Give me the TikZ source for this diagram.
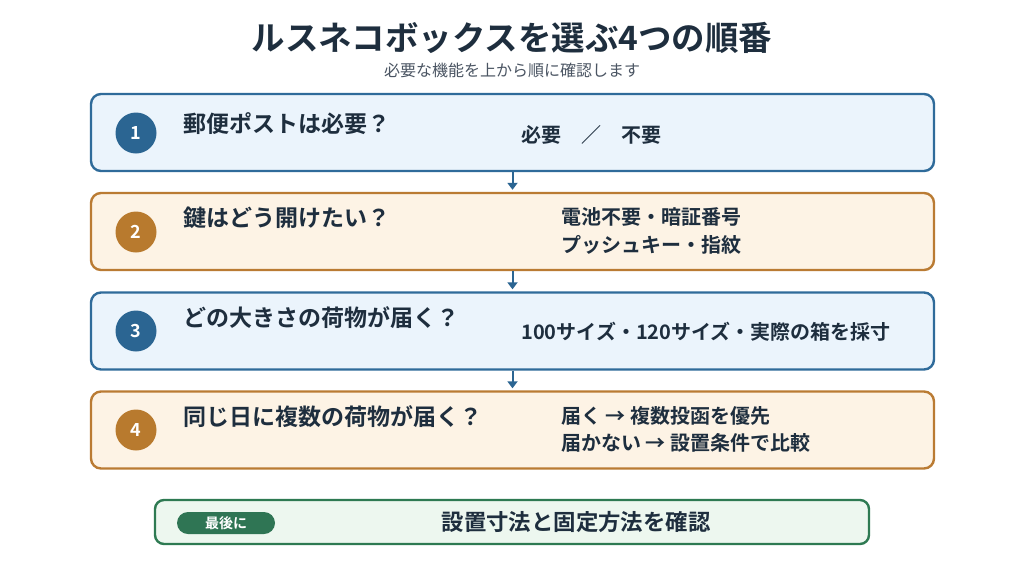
\documentclass[tikz,border=0pt]{standalone}
\usepackage{fontspec}
\setmainfont{Noto Sans CJK JP}[BoldFont={Noto Sans CJK JP Bold}]
\usetikzlibrary{arrows.meta}
\definecolor{ink}{HTML}{1E2E3E}
\definecolor{subink}{HTML}{4B5563}
\definecolor{bluebd}{HTML}{2F6B9A}
\definecolor{bluefill}{HTML}{EBF4FC}
\definecolor{bluedot}{HTML}{2B6592}
\definecolor{orbd}{HTML}{BA7B33}
\definecolor{orfill}{HTML}{FDF3E5}
\definecolor{ordot}{HTML}{B87A2E}
\definecolor{grbd}{HTML}{2E7A52}
\definecolor{grfill}{HTML}{EDF7EF}
\definecolor{grpill}{HTML}{2F7554}
\newcommand{\fs}[1]{\fontsize{#1}{#1}\selectfont}
\tikzset{
  stepbox/.style={draw=#1bd, fill=#1fill, line width=2.4pt, rounded corners=10pt,
    minimum width=843pt, minimum height=77pt, inner sep=0pt},
  numdot/.style={circle, fill=#1dot, minimum size=41pt, inner sep=0pt, text=white,
    font=\fs{18}\bfseries},
  qtext/.style={anchor=west, text=ink, font=\fs{23}\bfseries, inner sep=0pt},
  atext/.style={anchor=west, text=ink, font=\fs{20}\bfseries, inner sep=0pt, align=left},
  flow/.style={draw=bluedot, line width=2pt, -{Triangle[length=7pt,width=10pt]}, shorten >=2pt}
}
\begin{document}
\begin{tikzpicture}[x=1pt,y=-1pt]
\useasboundingbox (0,0) rectangle (1024,576);
\fill[white] (0,0) rectangle (1024,576);
\node[text=ink, font=\fs{33.5}\bfseries, inner sep=0pt] (title) at (512,38) {ルスネコボックスを選ぶ4つの順番};
\node[text=subink, font=\fs{16}, inner sep=0pt] (sub) at (512,70) {必要な機能を上から順に確認します};
% boxes
\node[stepbox=blue] (b1) at (512.5,132.5) {};
\node[stepbox=or] (b2) at (512.5,231.5) {};
\node[stepbox=blue] (b3) at (512.5,331) {};
\node[stepbox=or] (b4) at (512.5,430) {};
% numbers
\node[numdot=blue] (n1) at (136,133) {1};
\node[numdot=or] (n2) at (136,232) {2};
\node[numdot=blue] (n3) at (136,331) {3};
\node[numdot=or] (n4) at (136,430) {4};
% questions
\node[qtext] (q1) at (183,124) {郵便ポストは必要？};
\node[qtext] (q2) at (183,218) {鍵はどう開けたい？};
\node[qtext] (q3) at (183,318) {どの大きさの荷物が届く？};
\node[qtext] (q4) at (183,417) {同じ日に複数の荷物が届く？};
% answers
\node[atext] (a1) at (521,135) {必要　／　不要};
\node[atext] (a2a) at (561,217) {電池不要・暗証番号};
\node[atext] (a2b) at (561,245) {プッシュキー・指紋};
\node[atext] (a3) at (521,332) {100サイズ・120サイズ・実際の箱を採寸};
\node[atext] (a4a) at (561,416) {届く → 複数投函を優先};
\node[atext] (a4b) at (561,443) {届かない → 設置条件で比較};
% arrows
\draw[flow] (b1.south) -- (b2.north);
\draw[flow] (b2.south) -- (b3.north);
\draw[flow] (b3.south) -- (b4.north);
% final
\node[draw=grbd, fill=grfill, line width=2.4pt, rounded corners=9pt, minimum width=714pt, minimum height=44pt, inner sep=0pt] (fin) at (512,522) {};
\node[fill=grpill, rounded corners=11pt, minimum width=98pt, minimum height=22pt, inner sep=0pt, text=white, font=\fs{14}\bfseries] (pill) at (226,523) {最後に};
\node[text=ink, font=\fs{22.4}\bfseries, inner sep=0pt] (fint) at (576,522) {設置寸法と固定方法を確認};
\end{tikzpicture}
\end{document}
